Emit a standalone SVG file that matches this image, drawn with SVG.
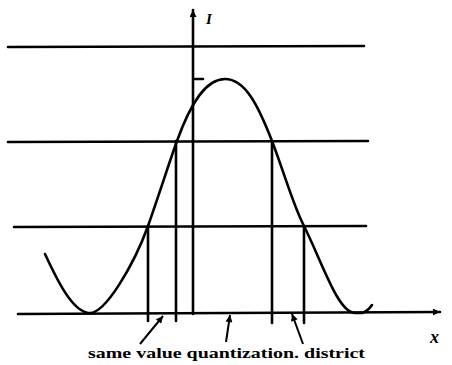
<svg xmlns="http://www.w3.org/2000/svg" width="452" height="365" viewBox="0 0 452 365">
<style>
.ln{stroke:#000;stroke-width:2.6;fill:none;stroke-linecap:round}
.th{stroke:#000;stroke-width:2;fill:none}
.lbl{font-family:"Liberation Serif","DejaVu Serif",serif;font-weight:bold;fill:#000}
</style>
<defs>
<marker id="ah" viewBox="0 0 10 10" refX="10" refY="5" markerWidth="13" markerHeight="7" markerUnits="userSpaceOnUse" orient="auto"><path d="M0,0 L10,5 L0,10 Z" fill="#000"/></marker>
<marker id="ax" viewBox="0 0 10 10" refX="10" refY="5" markerWidth="18" markerHeight="7" markerUnits="userSpaceOnUse" orient="auto"><path d="M0,0 L10,5 L0,10 Z" fill="#000"/></marker>
</defs>
<rect width="452" height="365" fill="#fff"/>
<g id="levels">
<line class="ln" x1="8" y1="47" x2="364" y2="46"/>
<line class="ln" x1="8" y1="142" x2="368" y2="141"/>
<line class="ln" x1="14" y1="227" x2="366" y2="226"/>
</g>
<g id="axes">
<line class="ln" x1="18" y1="314" x2="440" y2="312" marker-end="url(#ax)"/>
<line class="ln" x1="193" y1="314" x2="193" y2="10" marker-end="url(#ax)"/>
<line class="ln" x1="195" y1="79" x2="203" y2="79"/>
<text class="lbl" x="206" y="24" font-size="15" font-style="italic">I</text>
<text class="lbl" x="430" y="343" font-size="18" font-style="italic">x</text>
</g>
<g id="curve">
<path class="ln" d="M45,254 C58,282 72,310 88,313 C105,316 135,262 148,226 C160,192 170,160 177,141 C190,105 205,79 225,79 C245,79 258,105 272,141 C285,175 293,205 304,226 C322,262 338,313 355,313 L362,313 Q368,311 372,305"/>
</g>
<g id="connectors">
<line class="ln" x1="148" y1="226" x2="148" y2="321"/>
<line class="ln" x1="176" y1="141" x2="176" y2="321"/>
<line class="ln" x1="272" y1="141" x2="272" y2="323"/>
<line class="ln" x1="304" y1="226" x2="304" y2="323"/>
<line class="th" x1="140" y1="344" x2="163" y2="316" marker-end="url(#ah)"/>
<line class="th" x1="226" y1="342" x2="230" y2="315" marker-end="url(#ah)"/>
<line class="th" x1="303" y1="344" x2="292" y2="314" marker-end="url(#ah)"/>
</g>
<text class="lbl" x="88" y="358" font-size="15" textLength="277" lengthAdjust="spacingAndGlyphs">same value quantization. district</text>
</svg>
